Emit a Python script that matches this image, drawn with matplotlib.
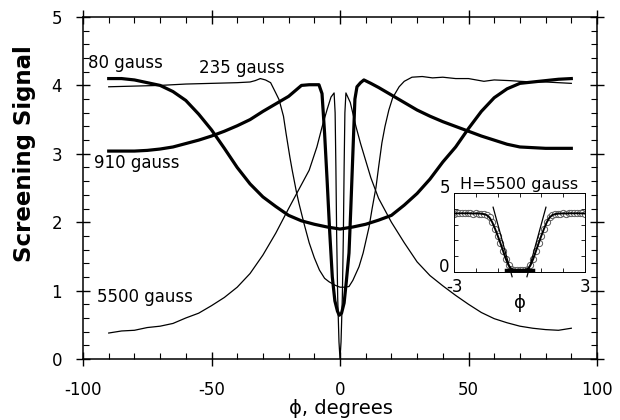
import matplotlib
matplotlib.use("Agg")
import matplotlib.pyplot as plt
import matplotlib.ticker as mticker

plt.rcParams["font.family"] = ["DejaVu Sans"]
plt.rcParams["axes.unicode_minus"] = False

# ------------------------------------------------------------------ #
# data
# ------------------------------------------------------------------ #
phi_80 = [-90, -85, -80, -75, -70, -65, -60, -55, -50, -45, -40, -35, -30,
          -25, -20, -15, -10, -5, 0, 5, 10, 15, 20, 25, 30, 35, 40, 45, 50,
          55, 60, 65, 70, 75, 80, 85, 90]
sig_80 = [4.10, 4.10, 4.08, 4.04, 4.00, 3.91, 3.78, 3.58, 3.35, 3.08, 2.80,
          2.56, 2.37, 2.23, 2.10, 2.02, 1.97, 1.93, 1.90, 1.93, 1.97, 2.03,
          2.10, 2.25, 2.42, 2.63, 2.88, 3.10, 3.37, 3.62, 3.82, 3.95, 4.03,
          4.05, 4.07, 4.09, 4.10]

phi_910 = [-90, -85, -80, -75, -70, -65, -60, -55, -50, -45, -40, -35, -30,
           -25, -20, -15, -12, -8.2, -7, -6, -5, -4, -3, -2, -1, -0.3, 0.6,
           1.6, 2.5, 3.5, 4.2, 5, 5.8, 6.6, 8, 9.3, 12, 15, 20, 25, 30, 35,
           40, 45, 50, 55, 60, 65, 70, 75, 80, 85, 90]
sig_910 = [3.04, 3.04, 3.04, 3.05, 3.07, 3.10, 3.15, 3.20, 3.26, 3.33, 3.41,
           3.50, 3.62, 3.73, 3.84, 4.00, 4.01, 4.01, 3.88, 3.30, 2.60, 1.85,
           1.20, 0.85, 0.70, 0.64, 0.67, 0.82, 1.15, 1.55, 2.20, 3.00, 3.80,
           3.98, 4.04, 4.08, 4.03, 3.97, 3.86, 3.75, 3.64, 3.55, 3.47, 3.40,
           3.33, 3.26, 3.20, 3.14, 3.10, 3.09, 3.08, 3.08, 3.08]

phi_235 = [-90, -80, -70, -60, -50, -40, -35, -33, -31, -29, -27, -25, -23.7,
           -22, -21, -19.5, -18.6, -17, -16, -14, -12, -10, -8, -6, -4.3, -2,
           0, 2, 3.5, 5, 7.4, 9, 11.3, 12.5, 14, 15, 16.3, 17.5, 19, 20.5, 23,
           25, 28, 32, 36, 40, 45, 50, 56, 60, 66, 70, 75, 80, 85, 90]
sig_235 = [3.98, 3.99, 4.00, 4.02, 4.03, 4.04, 4.05, 4.07, 4.10, 4.08, 4.04,
           3.89, 3.79, 3.55, 3.30, 2.95, 2.76, 2.45, 2.28, 1.98, 1.70, 1.48,
           1.30, 1.18, 1.13, 1.08, 1.05, 1.05, 1.06, 1.15, 1.35, 1.55, 1.93,
           2.20, 2.51, 2.80, 3.16, 3.40, 3.64, 3.82, 3.98, 4.06, 4.12, 4.13,
           4.11, 4.12, 4.10, 4.10, 4.06, 4.08, 4.07, 4.06, 4.05, 4.05, 4.04,
           4.03]

phi_5500 = [-90, -85, -80, -75, -70, -65, -60, -55, -50, -45, -40, -35, -30,
            -25, -20, -15, -12, -9, -7, -5, -3.5, -2.3, -1.9, -1.6, -1.3,
            -0.9, -0.4, 0, 0.4, 0.9, 1.3, 1.6, 1.9, 2.3, 4, 6.2, 8, 10, 12,
            15, 20, 25, 30, 35, 40, 45, 50, 55, 60, 65, 70, 75, 80, 85, 90]
sig_5500 = [0.38, 0.41, 0.42, 0.46, 0.48, 0.52, 0.60, 0.67, 0.78, 0.90, 1.05,
            1.25, 1.52, 1.84, 2.20, 2.55, 2.76, 3.10, 3.39, 3.65, 3.83, 3.89,
            3.60, 2.80, 1.80, 0.90, 0.25, 0.00, 0.25, 0.90, 1.80, 2.80, 3.60,
            3.89, 3.75, 3.40, 3.15, 2.90, 2.65, 2.35, 2.00, 1.70, 1.42, 1.22,
            1.07, 0.93, 0.80, 0.68, 0.59, 0.53, 0.48, 0.45, 0.43, 0.42, 0.45]

# inset: H = 5500 gauss, close-up around phi = 0
inset_phi = [-3.0, -2.875, -2.75, -2.625, -2.5, -2.375, -2.25, -2.125, -2.0,
             -1.875, -1.75, -1.625, -1.5, -1.375, -1.25, -1.125, -1.0,
             -0.875, -0.75, -0.625, -0.5, -0.375, -0.25, -0.125, 0.0, 0.125,
             0.25, 0.375, 0.5, 0.625, 0.75, 0.875, 1.0, 1.125, 1.25, 1.375,
             1.5, 1.625, 1.75, 1.875, 2.0, 2.125, 2.25, 2.375, 2.5, 2.625,
             2.75, 2.875, 3.0]
inset_sig = [3.70, 3.71, 3.71, 3.72, 3.71, 3.72, 3.71, 3.70, 3.71, 3.70,
             3.69, 3.66, 3.60, 3.45, 3.15, 2.75, 2.30, 1.82, 1.32, 0.82, 0.42,
             0.20, 0.14, 0.12, 0.12, 0.12, 0.14, 0.20, 0.42, 0.82, 1.32, 1.82,
             2.30, 2.75, 3.15, 3.45, 3.60, 3.66, 3.69, 3.70, 3.71, 3.70, 3.71,
             3.72, 3.71, 3.72, 3.71, 3.71, 3.70]

# straight-line fits drawn over the inset data
fit_left_phi = [-1.21, -0.34]
fit_left_sig = [4.10, -0.30]
fit_right_phi = [0.34, 1.21]
fit_right_sig = [-0.30, 4.10]
fit_base_phi = [-0.6, 0.6]
fit_base_sig = [0.10, 0.10]

THICK = 2.3
THIN = 0.9

# ------------------------------------------------------------------ #
# main axes
# ------------------------------------------------------------------ #
fig = plt.figure(figsize=(6.2, 4.2), dpi=100)
ax = fig.add_axes([0.1339, 0.1452, 0.8290, 0.8143])

ax.plot(phi_235, sig_235, color="black", lw=THIN)
ax.plot(phi_5500, sig_5500, color="black", lw=THIN)
ax.plot(phi_80, sig_80, color="black", lw=THICK)
ax.plot(phi_910, sig_910, color="black", lw=THICK)

ax.text(-98, 4.33, "80 gauss", fontsize=12, ha="left", va="center")
ax.text(-55, 4.25, "235 gauss", fontsize=12, ha="left", va="center")
ax.text(-95.7, 2.86, "910 gauss", fontsize=12, ha="left", va="center")
ax.text(-94.5, 0.91, "5500 gauss", fontsize=12, ha="left", va="center")

ax.set_xlim(-100, 100)
ax.set_ylim(0, 5)
ax.set_xticks([-100, -50, 0, 50, 100])
ax.set_yticks([0, 1, 2, 3, 4, 5])
ax.xaxis.set_minor_locator(mticker.MultipleLocator(10))
ax.yaxis.set_minor_locator(mticker.MultipleLocator(0.2))
ax.tick_params(which="major", direction="inout", length=10, width=1.0,
               top=True, right=True, labelsize=12)
ax.tick_params(which="minor", direction="in", length=4, width=0.8,
               top=True, right=True)
ax.tick_params(axis="x", which="major", pad=11)
ax.tick_params(axis="y", which="major", pad=10)
for side in ax.spines.values():
    side.set_linewidth(1.1)

fig.text(25 / 620, 1 - 154 / 420, "Screening Signal", rotation=90,
         fontsize=16.5, fontweight="bold", ha="center", va="center")
fig.text(341 / 620, 1 - 409 / 420, "ϕ, degrees", fontsize=14,
         ha="center", va="center")

# ------------------------------------------------------------------ #
# inset
# ------------------------------------------------------------------ #
ins = fig.add_axes([0.7323, 0.3524, 0.2113, 0.1881])
ins.plot(inset_phi, inset_sig, "o", ms=4.5, mfc="white", mec="0.35",
         mew=0.7)
ins.plot(inset_phi, inset_sig, color="black", lw=1.4)
ins.plot(fit_left_phi, fit_left_sig, color="black", lw=0.9, clip_on=False)
ins.plot(fit_right_phi, fit_right_sig, color="black", lw=0.9, clip_on=False)
ins.plot(fit_base_phi, fit_base_sig, color="black", lw=2.5, clip_on=False)
ins.set_xlim(-3, 3)
ins.set_ylim(0, 5)
ins.set_xticks([-3, 3])
ins.set_yticks([0, 5])
ins.xaxis.set_minor_locator(mticker.MultipleLocator(1))
ins.yaxis.set_minor_locator(mticker.MultipleLocator(1))
ins.tick_params(which="both", direction="in", top=True, right=True,
                labelsize=12, length=3, width=0.6)
ins.tick_params(axis="x", pad=4)
ins.tick_params(axis="y", pad=3)
for lab in ins.get_yticklabels():
    lab.set_verticalalignment("baseline")
for side in ins.spines.values():
    side.set_linewidth(0.7)
ins.set_title("H=5500 gauss", fontsize=11.5, pad=3)
ins.set_xlabel("ϕ", fontsize=13, labelpad=-1)

fig.savefig("out.png", dpi=100)
